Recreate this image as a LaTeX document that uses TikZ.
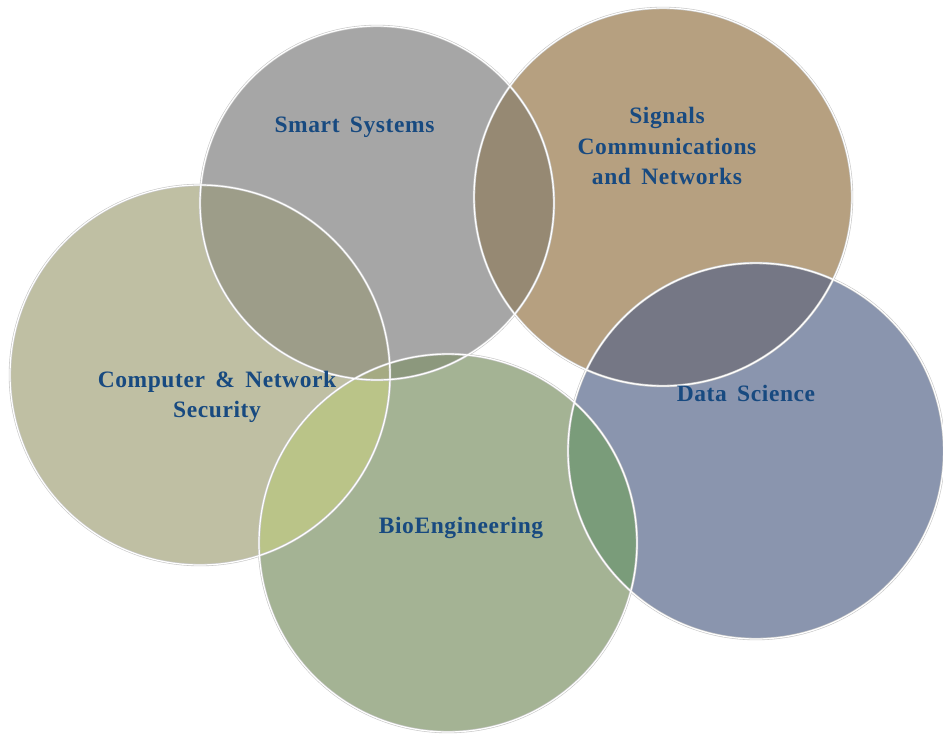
\documentclass[tikz,border=0pt]{standalone}
\usepackage{fontspec}
\setmainfont{Liberation Serif}[LetterSpace=2.5,WordSpace=1.6]
\definecolor{cSmart}{RGB}{166,166,166}
\definecolor{cSig}{RGB}{182,160,128}
\definecolor{cComp}{RGB}{191,191,163}
\definecolor{cData}{RGB}{138,149,174}
\definecolor{cBio}{RGB}{164,179,148}
\definecolor{cSmCo}{RGB}{157,157,137}
\definecolor{cSmSi}{RGB}{150,137,115}
\definecolor{cSiDa}{RGB}{117,119,133}
\definecolor{cCoBi}{RGB}{186,196,136}
\definecolor{cBiDa}{RGB}{122,156,122}
\definecolor{cSmBi}{RGB}{140,152,125}
\definecolor{cSmCoBi}{RGB}{165,170,130}
\definecolor{ringgray}{RGB}{200,200,200}
\definecolor{txtblue}{RGB}{24,74,128}
\begin{document}
\begin{tikzpicture}[x=1pt,y=-1pt,
  ringout/.style={draw=ringgray, line width=2.4pt},
  ringin/.style={draw=white, line width=1.2pt},
  lbl/.style={font=\bfseries\fontsize{23.5}{30.5}\selectfont, text=txtblue, align=center, inner sep=0pt}]
\useasboundingbox (0,0) rectangle (943,734);
% centres
\coordinate (cs) at (377,203);
\coordinate (cg) at (663,197);
\coordinate (cc) at (200,375);
\coordinate (cd) at (756,451);
\coordinate (cb) at (448,543);
% fills
\fill[cComp] (cc) circle[radius=190];
\fill[cSmart] (cs) circle[radius=177];
\fill[cSig] (cg) circle[radius=189];
\fill[cData] (cd) circle[radius=188];
\fill[cBio] (cb) circle[radius=189];
% overlaps
\begin{scope}\clip (cs) circle[radius=177]; \fill[cSmCo] (cc) circle[radius=190];\end{scope}
\begin{scope}\clip (cs) circle[radius=177]; \fill[cSmSi] (cg) circle[radius=189];\end{scope}
\begin{scope}\clip (cg) circle[radius=189]; \fill[cSiDa] (cd) circle[radius=188];\end{scope}
\begin{scope}\clip (cc) circle[radius=190]; \fill[cCoBi] (cb) circle[radius=189];\end{scope}
\begin{scope}\clip (cb) circle[radius=189]; \fill[cBiDa] (cd) circle[radius=188];\end{scope}
\begin{scope}\clip (cs) circle[radius=177]; \fill[cSmBi] (cb) circle[radius=189];\end{scope}
\begin{scope}\clip (cs) circle[radius=177]; \clip (cc) circle[radius=190]; \fill[cSmCoBi] (cb) circle[radius=189];\end{scope}
% borders
\foreach \c/\r in {cc/190,cs/177,cg/189,cd/188,cb/189}{
  \draw[ringout] (\c) circle[radius=\r];
}
\foreach \c/\r in {cc/190,cs/177,cg/189,cd/188,cb/189}{
  \draw[ringin] (\c) circle[radius=\r];
}
% labels
\node[lbl] (tsmart) at (354.5,127) {Smart Systems};
\node[lbl] (tsig) at (667,146) {Signals\\Communications\\and Networks};
\node[lbl] (tcomp) at (217,397) {Computer \& Network\\Security};
\node[lbl] (tdata) at (746,393) {Data Science};
\node[lbl] (tbio) at (461,528) {BioEngineering};
\end{tikzpicture}
\end{document}
